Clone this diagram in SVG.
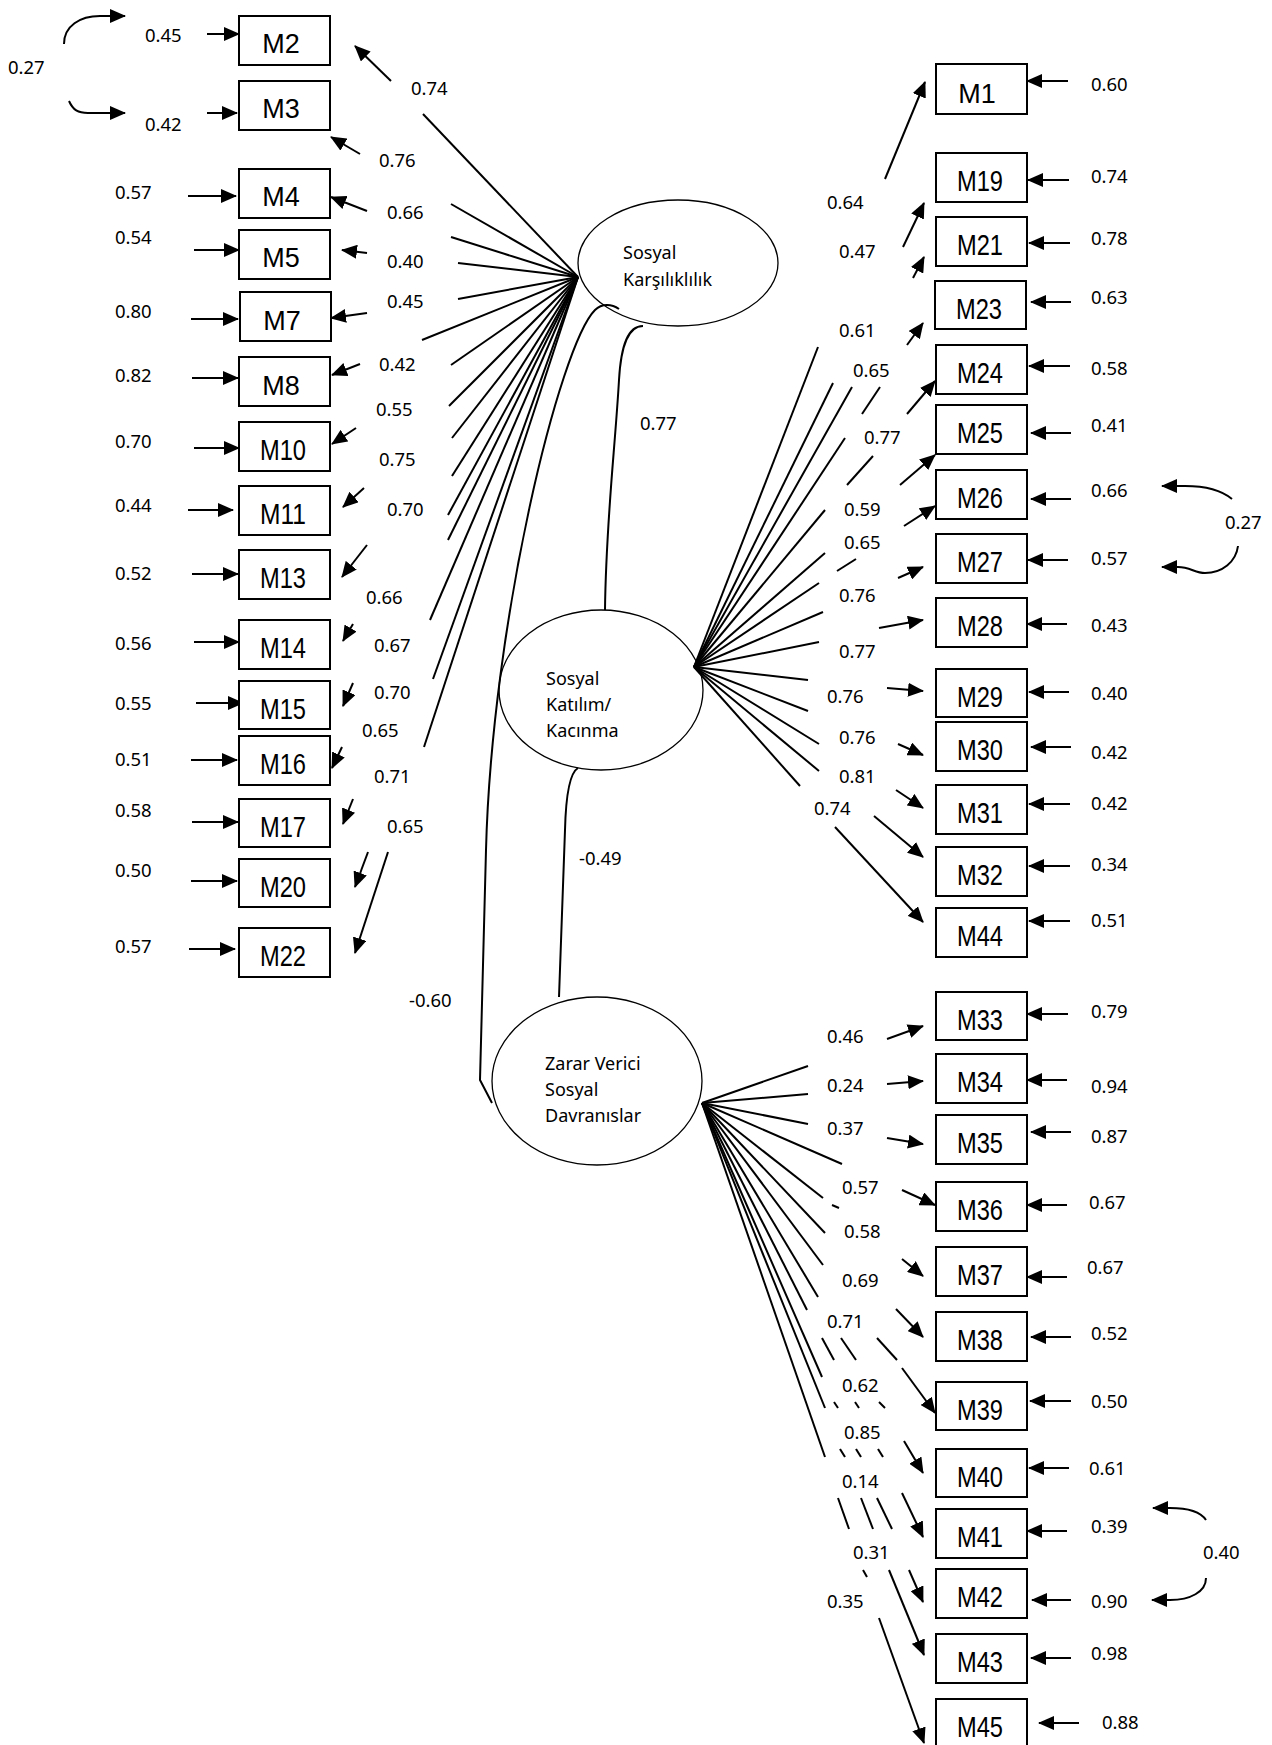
<svg xmlns="http://www.w3.org/2000/svg" width="1272" height="1745" viewBox="0 0 1272 1745">
<style>
.bg{fill:#fff}
.box{fill:#fff;stroke:#000;stroke-width:2}
.ell{fill:none;stroke:#000;stroke-width:1.3}
.ln{fill:none;stroke:#000;stroke-width:2}
.ar{fill:none;stroke:#000;stroke-width:2;marker-end:url(#ah)}
.n{font-family:"Noto Sans","Open Sans","DejaVu Sans",sans-serif;font-size:18.5px;fill:#000}
.et{font-family:"Noto Sans","Open Sans","DejaVu Sans",sans-serif;font-size:18px;fill:#000}
.bw{font-family:"Liberation Sans",Arial,sans-serif;font-size:27px;fill:#000;text-anchor:middle}
.bn{font-family:"Liberation Sans",Arial,sans-serif;font-size:29px;fill:#000;text-anchor:middle}
</style>
<defs>
<marker id="ah" viewBox="0 0 16 14" refX="15" refY="7" markerWidth="16" markerHeight="14" markerUnits="userSpaceOnUse" orient="auto"><path d="M0,0 L16,7 L0,14 z" fill="#000"/></marker>
</defs>
<rect class="bg" x="0" y="0" width="1272" height="1745"/>

<g id="connectors">
<!-- fan lines ellipse 1 -->
<g id="fan-SK">
<line class="ln" x1="578" y1="277" x2="423" y2="114"/>
<line class="ln" x1="578" y1="277" x2="451" y2="204"/>
<line class="ln" x1="578" y1="277" x2="451" y2="237"/>
<line class="ln" x1="578" y1="277" x2="458" y2="263"/>
<line class="ln" x1="578" y1="277" x2="458" y2="299"/>
<line class="ln" x1="578" y1="277" x2="422" y2="340"/>
<line class="ln" x1="578" y1="277" x2="451" y2="365"/>
<line class="ln" x1="578" y1="277" x2="449" y2="406"/>
<line class="ln" x1="578" y1="277" x2="452" y2="438"/>
<line class="ln" x1="578" y1="277" x2="452" y2="476"/>
<line class="ln" x1="578" y1="277" x2="448" y2="515"/>
<line class="ln" x1="578" y1="277" x2="448" y2="540"/>
<line class="ln" x1="578" y1="277" x2="430" y2="620"/>
<line class="ln" x1="578" y1="277" x2="433" y2="679"/>
<line class="ln" x1="578" y1="277" x2="424" y2="747"/>
</g>
<!-- fan lines ellipse 2 -->
<g id="fan-SKK">
<line class="ln" x1="694" y1="667" x2="818" y2="347"/>
<line class="ln" x1="694" y1="667" x2="833" y2="383"/>
<line class="ln" x1="694" y1="667" x2="852" y2="387"/>
<line class="ln" x1="880" y1="387" x2="862" y2="414"/>
<line class="ln" x1="694" y1="667" x2="845" y2="438"/>
<line class="ln" x1="873" y1="456" x2="847" y2="485"/>
<line class="ln" x1="694" y1="667" x2="825" y2="510"/>
<line class="ln" x1="694" y1="667" x2="825" y2="553"/>
<line class="ln" x1="856" y1="559" x2="837" y2="571"/>
<line class="ln" x1="694" y1="667" x2="819" y2="583"/>
<line class="ln" x1="694" y1="667" x2="823" y2="612"/>
<line class="ln" x1="694" y1="667" x2="819" y2="642"/>
<line class="ln" x1="694" y1="667" x2="808" y2="680"/>
<line class="ln" x1="694" y1="667" x2="808" y2="711"/>
<line class="ln" x1="694" y1="667" x2="819" y2="744"/>
<line class="ln" x1="694" y1="667" x2="819" y2="771"/>
<line class="ln" x1="694" y1="667" x2="800" y2="786"/>
</g>
<!-- fan lines ellipse 3 -->
<g id="fan-ZVSD">
<line class="ln" x1="702" y1="1103" x2="808" y2="1066"/>
<line class="ln" x1="702" y1="1103" x2="808" y2="1094"/>
<line class="ln" x1="702" y1="1103" x2="808" y2="1124"/>
<line class="ln" x1="702" y1="1103" x2="842" y2="1164"/>
<line class="ln" x1="702" y1="1103" x2="823" y2="1198"/>
<line class="ln" x1="832" y1="1205" x2="839" y2="1208"/>
<line class="ln" x1="702" y1="1103" x2="825" y2="1233"/>
<line class="ln" x1="702" y1="1103" x2="823" y2="1265"/>
<line class="ln" x1="702" y1="1103" x2="818" y2="1297"/>
<line class="ln" x1="702" y1="1103" x2="807" y2="1310"/>
<line class="ln" x1="702" y1="1103" x2="822" y2="1377"/>
<line class="ln" x1="702" y1="1103" x2="825" y2="1408"/>
<line class="ln" x1="702" y1="1103" x2="825" y2="1457"/>
<line class="ln" x1="822" y1="1338" x2="834" y2="1360"/>
<line class="ln" x1="841" y1="1338" x2="856" y2="1360"/>
<line class="ln" x1="877" y1="1338" x2="897" y2="1360"/>
<line class="ln" x1="834" y1="1402" x2="838" y2="1408"/>
<line class="ln" x1="855" y1="1402" x2="859" y2="1408"/>
<line class="ln" x1="879" y1="1402" x2="885" y2="1408"/>
<line class="ln" x1="840" y1="1449" x2="845" y2="1457"/>
<line class="ln" x1="856" y1="1449" x2="861" y2="1457"/>
<line class="ln" x1="878" y1="1449" x2="883" y2="1457"/>
<line class="ln" x1="838" y1="1498" x2="849" y2="1529"/>
<line class="ln" x1="861" y1="1498" x2="873" y2="1529"/>
<line class="ln" x1="877" y1="1498" x2="892" y2="1529"/>
<line class="ln" x1="863" y1="1570" x2="867" y2="1577"/>
</g>
<!-- factor covariances -->
<path class="ln" d="M619,309 C612,304 602,303 595,310 C560,345 492,620 486,850 L480,1080 L492,1103"/>
<path class="ln" d="M643,326 C628,326 621,345 619,380 C615,450 606,520 605,610"/>
<path class="ln" d="M578,768 C571,772 566,790 565,830 L559,997"/>
<!-- error covariances -->
<path class="ar" d="M64,44 C64,26 80,16 100,16 L125,16"/>
<path class="ar" d="M69,101 C73,110 78,113 88,113 L125,113"/>
<path class="ar" d="M1232,499 C1220,489 1205,486 1185,486 L1162,486"/>
<path class="ar" d="M1238,546 C1236,562 1222,573 1205,573 C1195,573 1190,567 1178,567 L1162,567"/>
<path class="ar" d="M1206,1520 C1200,1511 1185,1508 1170,1508 L1153,1508"/>
<path class="ar" d="M1206,1578 C1206,1592 1190,1600 1170,1600 L1152,1600"/>
<!-- left error arrows -->
<line class="ar" x1="207" y1="34" x2="239" y2="34"/>
<line class="ar" x1="207" y1="113" x2="237" y2="113"/>
<line class="ar" x1="188" y1="196" x2="236" y2="196"/>
<line class="ar" x1="194" y1="250" x2="239" y2="250"/>
<line class="ar" x1="191" y1="319" x2="238" y2="319"/>
<line class="ar" x1="192" y1="378" x2="238" y2="378"/>
<line class="ar" x1="194" y1="448" x2="239" y2="448"/>
<line class="ar" x1="188" y1="510" x2="233" y2="510"/>
<line class="ar" x1="192" y1="574" x2="238" y2="574"/>
<line class="ar" x1="194" y1="642" x2="239" y2="642"/>
<line class="ar" x1="196" y1="703" x2="243" y2="703"/>
<line class="ar" x1="191" y1="760" x2="237" y2="760"/>
<line class="ar" x1="192" y1="822" x2="238" y2="822"/>
<line class="ar" x1="191" y1="881" x2="237" y2="881"/>
<line class="ar" x1="189" y1="949" x2="235" y2="949"/>
<!-- left loading arrows -->
<line class="ar" x1="391" y1="81" x2="355" y2="46"/>
<line class="ar" x1="360" y1="154" x2="331" y2="137"/>
<line class="ar" x1="367" y1="211" x2="331" y2="197"/>
<line class="ar" x1="367" y1="253" x2="342" y2="250"/>
<line class="ar" x1="367" y1="313" x2="331" y2="318"/>
<line class="ar" x1="360" y1="364" x2="332" y2="375"/>
<line class="ar" x1="356" y1="428" x2="332" y2="444"/>
<line class="ar" x1="364" y1="488" x2="343" y2="507"/>
<line class="ar" x1="367" y1="545" x2="342" y2="577"/>
<line class="ar" x1="353" y1="624" x2="343" y2="641"/>
<line class="ar" x1="353" y1="683" x2="343" y2="706"/>
<line class="ar" x1="342" y1="747" x2="332" y2="768"/>
<line class="ar" x1="353" y1="799" x2="343" y2="824"/>
<line class="ar" x1="368" y1="852" x2="355" y2="887"/>
<line class="ar" x1="388" y1="852" x2="355" y2="953"/>
<!-- right loading arrows -->
<line class="ar" x1="885" y1="179" x2="925" y2="82"/>
<line class="ar" x1="903" y1="247" x2="924" y2="203"/>
<line class="ar" x1="913" y1="278" x2="924" y2="257"/>
<line class="ar" x1="907" y1="345" x2="923" y2="323"/>
<line class="ar" x1="907" y1="414" x2="935" y2="381"/>
<line class="ar" x1="900" y1="485" x2="935" y2="455"/>
<line class="ar" x1="904" y1="526" x2="935" y2="506"/>
<line class="ar" x1="898" y1="578" x2="923" y2="567"/>
<line class="ar" x1="879" y1="628" x2="923" y2="620"/>
<line class="ar" x1="887" y1="688" x2="923" y2="691"/>
<line class="ar" x1="898" y1="744" x2="923" y2="755"/>
<line class="ar" x1="896" y1="790" x2="923" y2="808"/>
<line class="ar" x1="874" y1="816" x2="923" y2="857"/>
<line class="ar" x1="835" y1="827" x2="923" y2="922"/>
<line class="ar" x1="887" y1="1039" x2="923" y2="1026"/>
<line class="ar" x1="887" y1="1084" x2="923" y2="1081"/>
<line class="ar" x1="887" y1="1138" x2="923" y2="1144"/>
<line class="ar" x1="902" y1="1190" x2="935" y2="1205"/>
<line class="ar" x1="902" y1="1259" x2="923" y2="1276"/>
<line class="ar" x1="896" y1="1309" x2="923" y2="1337"/>
<line class="ar" x1="902" y1="1368" x2="935" y2="1413"/>
<line class="ar" x1="904" y1="1441" x2="923" y2="1473"/>
<line class="ar" x1="902" y1="1493" x2="923" y2="1537"/>
<line class="ar" x1="909" y1="1570" x2="923" y2="1602"/>
<line class="ar" x1="889" y1="1570" x2="924" y2="1655"/>
<line class="ar" x1="879" y1="1618" x2="924" y2="1743"/>
<!-- right error arrows -->
<line class="ar" x1="1068" y1="81" x2="1027" y2="81"/>
<line class="ar" x1="1069" y1="180" x2="1028" y2="180"/>
<line class="ar" x1="1070" y1="243" x2="1029" y2="243"/>
<line class="ar" x1="1071" y1="302" x2="1031" y2="302"/>
<line class="ar" x1="1070" y1="366" x2="1029" y2="366"/>
<line class="ar" x1="1071" y1="433" x2="1031" y2="433"/>
<line class="ar" x1="1071" y1="499" x2="1031" y2="499"/>
<line class="ar" x1="1068" y1="560" x2="1028" y2="560"/>
<line class="ar" x1="1067" y1="624" x2="1027" y2="624"/>
<line class="ar" x1="1069" y1="692" x2="1029" y2="692"/>
<line class="ar" x1="1071" y1="747" x2="1031" y2="747"/>
<line class="ar" x1="1070" y1="804" x2="1029" y2="804"/>
<line class="ar" x1="1070" y1="866" x2="1029" y2="866"/>
<line class="ar" x1="1070" y1="921" x2="1029" y2="921"/>
<line class="ar" x1="1068" y1="1014" x2="1027" y2="1014"/>
<line class="ar" x1="1067" y1="1080" x2="1027" y2="1080"/>
<line class="ar" x1="1071" y1="1132" x2="1031" y2="1132"/>
<line class="ar" x1="1067" y1="1205" x2="1027" y2="1205"/>
<line class="ar" x1="1067" y1="1277" x2="1027" y2="1277"/>
<line class="ar" x1="1071" y1="1337" x2="1031" y2="1337"/>
<line class="ar" x1="1071" y1="1401" x2="1030" y2="1401"/>
<line class="ar" x1="1069" y1="1468" x2="1029" y2="1468"/>
<line class="ar" x1="1067" y1="1531" x2="1027" y2="1531"/>
<line class="ar" x1="1071" y1="1600" x2="1032" y2="1600"/>
<line class="ar" x1="1071" y1="1658" x2="1031" y2="1658"/>
<line class="ar" x1="1079" y1="1723" x2="1039" y2="1723"/>
</g>

<!-- latent factors -->
<g id="SK"><ellipse class="ell" cx="678" cy="263" rx="100" ry="63"/><text class="et" x="623" y="259">Sosyal</text><text class="et" x="623" y="286">Karşılıklılık</text></g>
<g id="SKK"><ellipse class="ell" cx="601" cy="690" rx="102" ry="80"/><text class="et" x="546" y="685">Sosyal</text><text class="et" x="546" y="711">Katılım/</text><text class="et" x="546" y="737">Kacınma</text></g>
<g id="ZVSD"><ellipse class="ell" cx="597" cy="1081" rx="105" ry="84"/><text class="et" x="545" y="1070">Zarar Verici</text><text class="et" x="545" y="1096">Sosyal</text><text class="et" x="545" y="1122">Davranıslar</text></g>

<!-- left indicators -->
<g id="M2"><rect class="box" x="239" y="16" width="91" height="49"/><text class="bw" x="281" y="53">M2</text></g>
<g id="M3"><rect class="box" x="239" y="81" width="91" height="49"/><text class="bw" x="281" y="118">M3</text></g>
<g id="M4"><rect class="box" x="239" y="169" width="91" height="49"/><text class="bw" x="281" y="206">M4</text></g>
<g id="M5"><rect class="box" x="239" y="230" width="91" height="49"/><text class="bw" x="281" y="267">M5</text></g>
<g id="M7"><rect class="box" x="240" y="292" width="91" height="49"/><text class="bw" x="282" y="330">M7</text></g>
<g id="M8"><rect class="box" x="239" y="357" width="91" height="49"/><text class="bw" x="281" y="395">M8</text></g>
<g id="M10"><rect class="box" x="239" y="422" width="91" height="49"/><text class="bn" x="283" y="460" textLength="46" lengthAdjust="spacingAndGlyphs">M10</text></g>
<g id="M11"><rect class="box" x="239" y="486" width="91" height="49"/><text class="bn" x="283" y="524" textLength="46" lengthAdjust="spacingAndGlyphs">M11</text></g>
<g id="M13"><rect class="box" x="239" y="550" width="91" height="49"/><text class="bn" x="283" y="588" textLength="46" lengthAdjust="spacingAndGlyphs">M13</text></g>
<g id="M14"><rect class="box" x="239" y="620" width="91" height="49"/><text class="bn" x="283" y="658" textLength="46" lengthAdjust="spacingAndGlyphs">M14</text></g>
<g id="M15"><rect class="box" x="239" y="681" width="91" height="48"/><text class="bn" x="283" y="719" textLength="46" lengthAdjust="spacingAndGlyphs">M15</text></g>
<g id="M16"><rect class="box" x="239" y="736" width="91" height="49"/><text class="bn" x="283" y="774" textLength="46" lengthAdjust="spacingAndGlyphs">M16</text></g>
<g id="M17"><rect class="box" x="239" y="799" width="91" height="48"/><text class="bn" x="283" y="837" textLength="46" lengthAdjust="spacingAndGlyphs">M17</text></g>
<g id="M20"><rect class="box" x="239" y="859" width="91" height="48"/><text class="bn" x="283" y="897" textLength="46" lengthAdjust="spacingAndGlyphs">M20</text></g>
<g id="M22"><rect class="box" x="239" y="928" width="91" height="49"/><text class="bn" x="283" y="966" textLength="46" lengthAdjust="spacingAndGlyphs">M22</text></g>

<!-- right indicators -->
<g id="M1"><rect class="box" x="936" y="64" width="91" height="50"/><text class="bw" x="977" y="103">M1</text></g>
<g id="M19"><rect class="box" x="936" y="153" width="91" height="49"/><text class="bn" x="980" y="191" textLength="46" lengthAdjust="spacingAndGlyphs">M19</text></g>
<g id="M21"><rect class="box" x="936" y="217" width="91" height="49"/><text class="bn" x="980" y="255" textLength="46" lengthAdjust="spacingAndGlyphs">M21</text></g>
<g id="M23"><rect class="box" x="935" y="281" width="91" height="48"/><text class="bn" x="979" y="319" textLength="46" lengthAdjust="spacingAndGlyphs">M23</text></g>
<g id="M24"><rect class="box" x="936" y="345" width="91" height="49"/><text class="bn" x="980" y="383" textLength="46" lengthAdjust="spacingAndGlyphs">M24</text></g>
<g id="M25"><rect class="box" x="936" y="405" width="91" height="49"/><text class="bn" x="980" y="443" textLength="46" lengthAdjust="spacingAndGlyphs">M25</text></g>
<g id="M26"><rect class="box" x="936" y="470" width="91" height="49"/><text class="bn" x="980" y="508" textLength="46" lengthAdjust="spacingAndGlyphs">M26</text></g>
<g id="M27"><rect class="box" x="936" y="534" width="91" height="49"/><text class="bn" x="980" y="572" textLength="46" lengthAdjust="spacingAndGlyphs">M27</text></g>
<g id="M28"><rect class="box" x="936" y="598" width="91" height="49"/><text class="bn" x="980" y="636" textLength="46" lengthAdjust="spacingAndGlyphs">M28</text></g>
<g id="M29"><rect class="box" x="936" y="669" width="91" height="48"/><text class="bn" x="980" y="707" textLength="46" lengthAdjust="spacingAndGlyphs">M29</text></g>
<g id="M30"><rect class="box" x="936" y="722" width="91" height="49"/><text class="bn" x="980" y="760" textLength="46" lengthAdjust="spacingAndGlyphs">M30</text></g>
<g id="M31"><rect class="box" x="936" y="785" width="91" height="49"/><text class="bn" x="980" y="823" textLength="46" lengthAdjust="spacingAndGlyphs">M31</text></g>
<g id="M32"><rect class="box" x="936" y="847" width="91" height="49"/><text class="bn" x="980" y="885" textLength="46" lengthAdjust="spacingAndGlyphs">M32</text></g>
<g id="M44"><rect class="box" x="936" y="908" width="91" height="49"/><text class="bn" x="980" y="946" textLength="46" lengthAdjust="spacingAndGlyphs">M44</text></g>
<g id="M33"><rect class="box" x="936" y="992" width="91" height="48"/><text class="bn" x="980" y="1030" textLength="46" lengthAdjust="spacingAndGlyphs">M33</text></g>
<g id="M34"><rect class="box" x="936" y="1054" width="91" height="49"/><text class="bn" x="980" y="1092" textLength="46" lengthAdjust="spacingAndGlyphs">M34</text></g>
<g id="M35"><rect class="box" x="936" y="1115" width="91" height="49"/><text class="bn" x="980" y="1153" textLength="46" lengthAdjust="spacingAndGlyphs">M35</text></g>
<g id="M36"><rect class="box" x="936" y="1182" width="91" height="49"/><text class="bn" x="980" y="1220" textLength="46" lengthAdjust="spacingAndGlyphs">M36</text></g>
<g id="M37"><rect class="box" x="936" y="1247" width="91" height="49"/><text class="bn" x="980" y="1285" textLength="46" lengthAdjust="spacingAndGlyphs">M37</text></g>
<g id="M38"><rect class="box" x="936" y="1312" width="91" height="49"/><text class="bn" x="980" y="1350" textLength="46" lengthAdjust="spacingAndGlyphs">M38</text></g>
<g id="M39"><rect class="box" x="936" y="1382" width="91" height="48"/><text class="bn" x="980" y="1420" textLength="46" lengthAdjust="spacingAndGlyphs">M39</text></g>
<g id="M40"><rect class="box" x="936" y="1449" width="91" height="48"/><text class="bn" x="980" y="1487" textLength="46" lengthAdjust="spacingAndGlyphs">M40</text></g>
<g id="M41"><rect class="box" x="936" y="1509" width="91" height="49"/><text class="bn" x="980" y="1547" textLength="46" lengthAdjust="spacingAndGlyphs">M41</text></g>
<g id="M42"><rect class="box" x="936" y="1569" width="91" height="49"/><text class="bn" x="980" y="1607" textLength="46" lengthAdjust="spacingAndGlyphs">M42</text></g>
<g id="M43"><rect class="box" x="936" y="1634" width="91" height="49"/><text class="bn" x="980" y="1672" textLength="46" lengthAdjust="spacingAndGlyphs">M43</text></g>
<g id="M45"><rect class="box" x="936" y="1699" width="91" height="49"/><text class="bn" x="980" y="1737" textLength="46" lengthAdjust="spacingAndGlyphs">M45</text></g>

<!-- labels -->
<g id="labels">
<text class="n" x="8" y="74">0.27</text>
<text class="n" x="145" y="42">0.45</text>
<text class="n" x="145" y="131">0.42</text>
<text class="n" x="115" y="199">0.57</text>
<text class="n" x="115" y="244">0.54</text>
<text class="n" x="115" y="318">0.80</text>
<text class="n" x="115" y="382">0.82</text>
<text class="n" x="115" y="448">0.70</text>
<text class="n" x="115" y="512">0.44</text>
<text class="n" x="115" y="580">0.52</text>
<text class="n" x="115" y="650">0.56</text>
<text class="n" x="115" y="710">0.55</text>
<text class="n" x="115" y="766">0.51</text>
<text class="n" x="115" y="817">0.58</text>
<text class="n" x="115" y="877">0.50</text>
<text class="n" x="115" y="953">0.57</text>
<text class="n" x="411" y="95">0.74</text>
<text class="n" x="379" y="167">0.76</text>
<text class="n" x="387" y="219">0.66</text>
<text class="n" x="387" y="268">0.40</text>
<text class="n" x="387" y="308">0.45</text>
<text class="n" x="379" y="371">0.42</text>
<text class="n" x="376" y="416">0.55</text>
<text class="n" x="379" y="466">0.75</text>
<text class="n" x="387" y="516">0.70</text>
<text class="n" x="366" y="604">0.66</text>
<text class="n" x="374" y="652">0.67</text>
<text class="n" x="374" y="699">0.70</text>
<text class="n" x="362" y="737">0.65</text>
<text class="n" x="374" y="783">0.71</text>
<text class="n" x="387" y="833">0.65</text>
<text class="n" x="640" y="430">0.77</text>
<text class="n" x="579" y="865">-0.49</text>
<text class="n" x="409" y="1007">-0.60</text>
<text class="n" x="827" y="209">0.64</text>
<text class="n" x="839" y="258">0.47</text>
<text class="n" x="839" y="337">0.61</text>
<text class="n" x="853" y="377">0.65</text>
<text class="n" x="864" y="444">0.77</text>
<text class="n" x="844" y="516">0.59</text>
<text class="n" x="844" y="549">0.65</text>
<text class="n" x="839" y="602">0.76</text>
<text class="n" x="839" y="658">0.77</text>
<text class="n" x="827" y="703">0.76</text>
<text class="n" x="839" y="744">0.76</text>
<text class="n" x="839" y="783">0.81</text>
<text class="n" x="814" y="815">0.74</text>
<text class="n" x="1091" y="91">0.60</text>
<text class="n" x="1091" y="183">0.74</text>
<text class="n" x="1091" y="245">0.78</text>
<text class="n" x="1091" y="304">0.63</text>
<text class="n" x="1091" y="375">0.58</text>
<text class="n" x="1091" y="432">0.41</text>
<text class="n" x="1091" y="497">0.66</text>
<text class="n" x="1091" y="565">0.57</text>
<text class="n" x="1091" y="632">0.43</text>
<text class="n" x="1091" y="700">0.40</text>
<text class="n" x="1091" y="759">0.42</text>
<text class="n" x="1091" y="810">0.42</text>
<text class="n" x="1091" y="871">0.34</text>
<text class="n" x="1091" y="927">0.51</text>
<text class="n" x="1225" y="529">0.27</text>
<text class="n" x="827" y="1043">0.46</text>
<text class="n" x="827" y="1092">0.24</text>
<text class="n" x="827" y="1135">0.37</text>
<text class="n" x="842" y="1194">0.57</text>
<text class="n" x="844" y="1238">0.58</text>
<text class="n" x="842" y="1287">0.69</text>
<text class="n" x="827" y="1328">0.71</text>
<text class="n" x="842" y="1392">0.62</text>
<text class="n" x="844" y="1439">0.85</text>
<text class="n" x="842" y="1488">0.14</text>
<text class="n" x="853" y="1559">0.31</text>
<text class="n" x="827" y="1608">0.35</text>
<text class="n" x="1091" y="1018">0.79</text>
<text class="n" x="1091" y="1093">0.94</text>
<text class="n" x="1091" y="1143">0.87</text>
<text class="n" x="1089" y="1209">0.67</text>
<text class="n" x="1087" y="1274">0.67</text>
<text class="n" x="1091" y="1340">0.52</text>
<text class="n" x="1091" y="1408">0.50</text>
<text class="n" x="1089" y="1475">0.61</text>
<text class="n" x="1091" y="1533">0.39</text>
<text class="n" x="1091" y="1608">0.90</text>
<text class="n" x="1091" y="1660">0.98</text>
<text class="n" x="1102" y="1729">0.88</text>
<text class="n" x="1203" y="1559">0.40</text>
</g>
</svg>
